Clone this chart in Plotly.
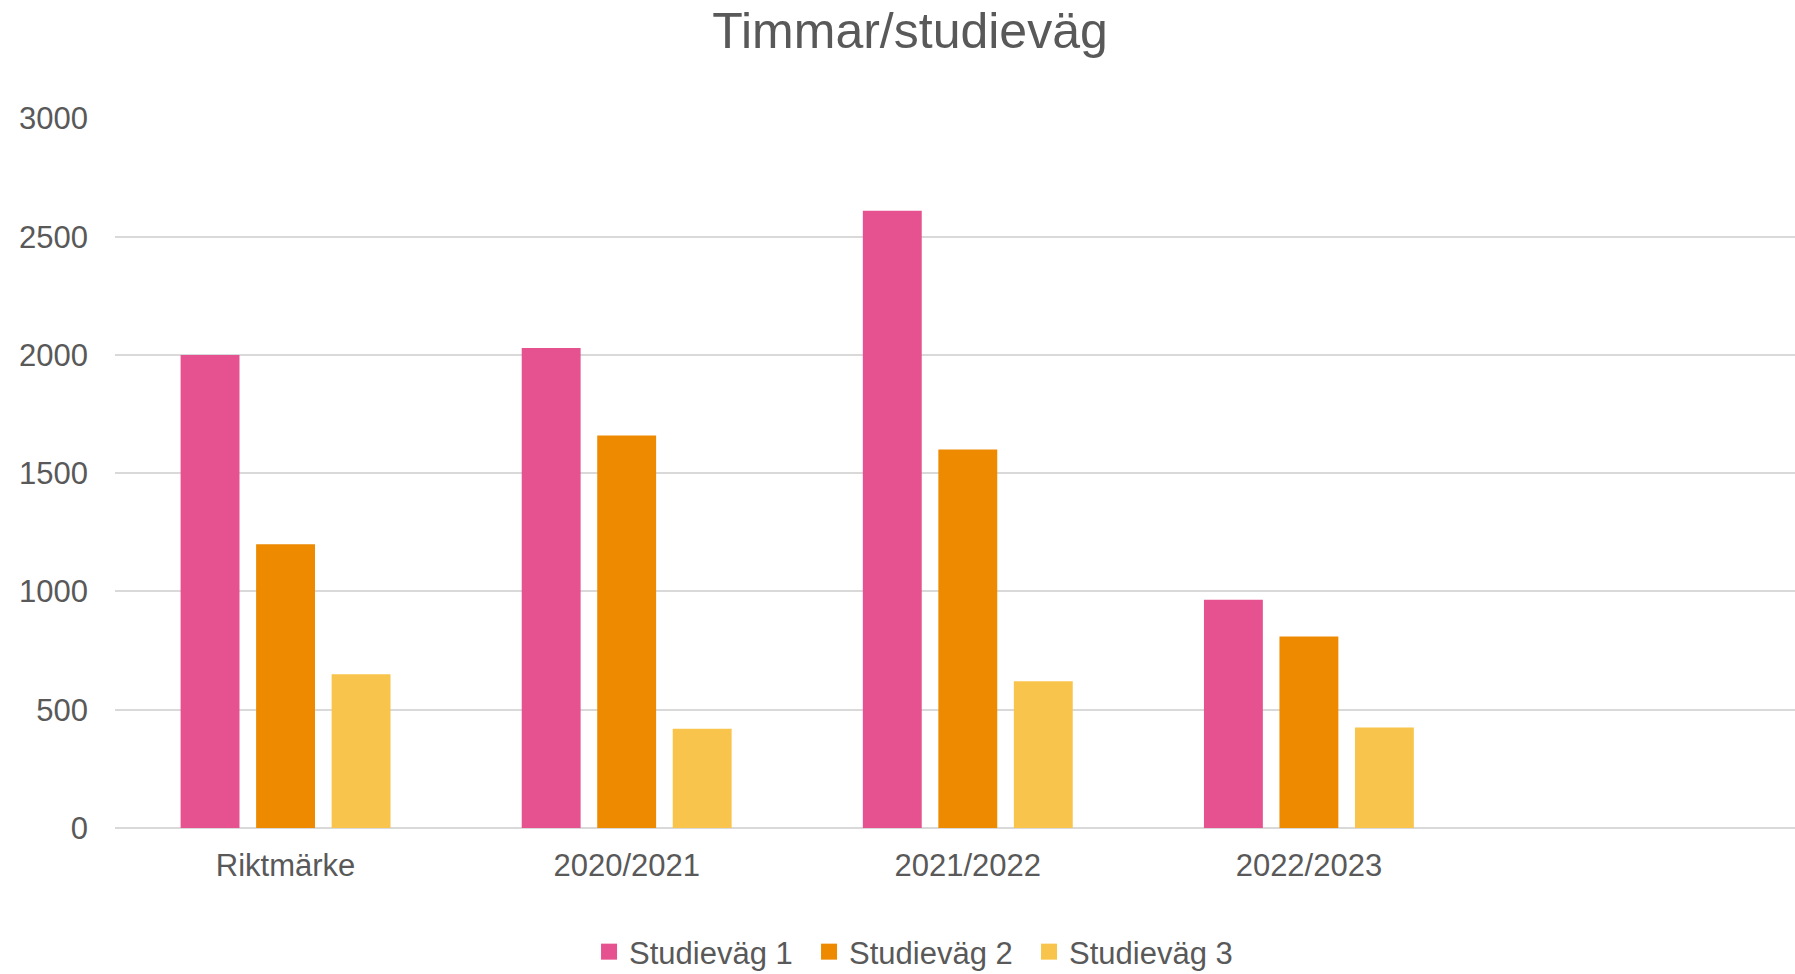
import plotly.graph_objects as go

categories = ["Riktmärke", "2020/2021", "2021/2022", "2022/2023"]
series_names = ["Studieväg 1", "Studieväg 2", "Studieväg 3"]
studievag_1 = [2000, 2030, 2610, 965]
studievag_2 = [1200, 1660, 1600, 810]
studievag_3 = [650, 420, 620, 425]
y_ticks = [0, 500, 1000, 1500, 2000, 2500, 3000]
colors = ["#E5528F", "#ED8A00", "#F9C44B"]

FONT = "Liberation Sans, Arial, sans-serif"
TXT = "#595959"

fig = go.Figure()
for name, vals, col in zip(series_names, [studievag_1, studievag_2, studievag_3], colors):
    fig.add_trace(go.Bar(x=categories, y=vals, name=name, showlegend=False,
                         marker=dict(color=col, line=dict(width=0))))
# legend entries with larger square swatches
for name, col in zip(series_names, colors):
    fig.add_trace(go.Scatter(x=[None], y=[None], mode="markers", name=name,
                             marker=dict(symbol="square", size=16, color=col)))

fig.update_layout(
    width=1795, height=974,
    paper_bgcolor="white", plot_bgcolor="white",
    barmode="group", bargap=0.336, bargroupgap=0.22,
    margin=dict(l=115, r=0, t=118, b=146, autoexpand=False),
    title=dict(text="Timmar/studieväg", x=0.507, xref="container", xanchor="center",
               y=1 - 30 / 974, yref="container", yanchor="middle",
               font=dict(family=FONT, size=50, color=TXT)),
    font=dict(family=FONT, size=31, color=TXT),
    legend=dict(orientation="h", x=0.512, xref="container", xanchor="center",
                y=1 - 952 / 974, yref="container", yanchor="middle",
                font=dict(family=FONT, size=31, color=TXT), itemsizing="trace",
                itemwidth=30, entrywidth=175, entrywidthmode="pixels",
                tracegroupgap=0, traceorder="normal"),
    xaxis=dict(type="category", categoryorder="array", categoryarray=categories,
               range=[-0.5, 4.425], showgrid=False, showline=False, zeroline=False,
               ticks="", ticklabelstandoff=16, tickfont=dict(family=FONT, size=31, color=TXT)),
    yaxis=dict(range=[0, 3002], tickvals=y_ticks, showgrid=True, gridcolor="#D9D9D9", gridwidth=2,
               zeroline=True, zerolinecolor="#D9D9D9", zerolinewidth=2, showline=False,
               ticks="", ticklabelstandoff=26, tickfont=dict(family=FONT, size=31, color=TXT)),
)

fig.write_html("out.html", config={"displayModeBar": False},
               post_script="document.body.style.margin='0';document.body.style.overflow='hidden';")
